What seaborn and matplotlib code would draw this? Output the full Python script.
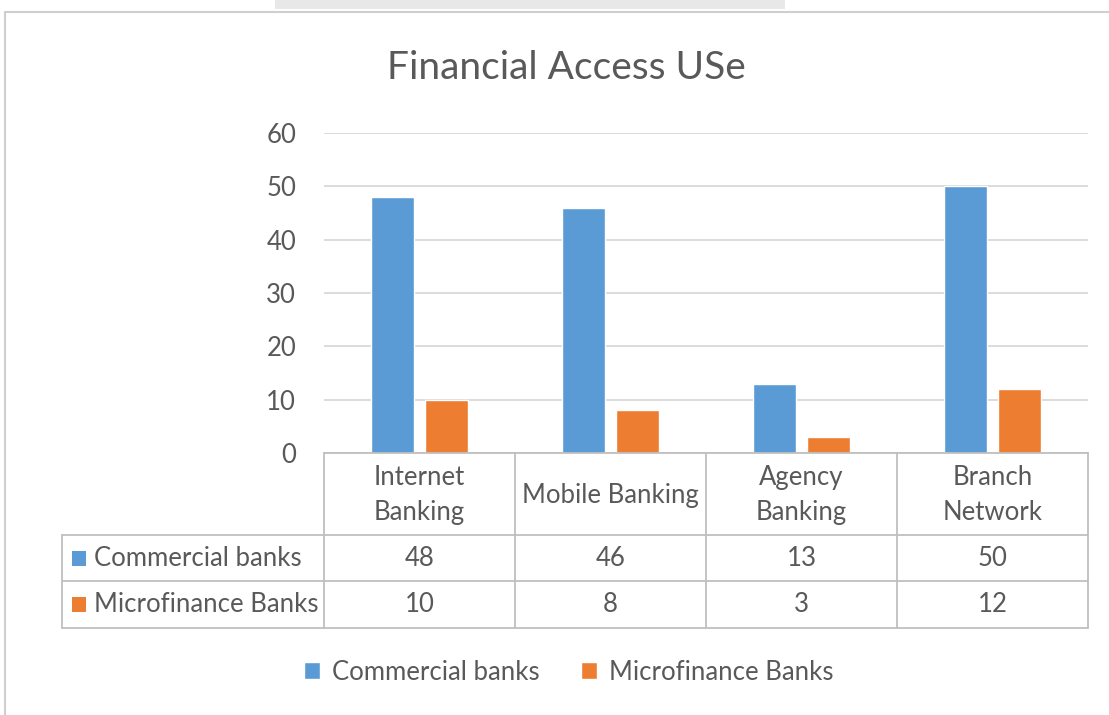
import matplotlib
matplotlib.use("Agg")
import matplotlib.pyplot as plt
import matplotlib.transforms as mtransforms
from matplotlib.patches import Rectangle
from matplotlib.lines import Line2D
import seaborn as sns
import pandas as pd

# ---- data ----
categories = ["Internet\nBanking", "Mobile Banking", "Agency\nBanking", "Branch\nNetwork"]
series_names = ["Commercial banks", "Microfinance Banks"]
commercial = [48, 46, 13, 50]
microfinance = [10, 8, 3, 12]
yticks = [0, 10, 20, 30, 40, 50, 60]
title = "Financial Access USe"

colors = ["#5B9BD5", "#ED7D31"]
text_color = "#595959"
grid_color = "#D9D9D9"
table_color = "#BFBFBF"
FS = 18.5

sns.set_theme(style="white")
plt.rcParams["font.family"] = ["Lato", "DejaVu Sans"]

W, H = 1109, 715
fig = plt.figure(figsize=(W / 100, H / 100), dpi=100)

def fx(px):
    return px / W

def fy(py):
    return 1 - py / H

# plot area
ax_left, ax_right, ax_top, ax_bottom = 324, 1088, 133, 453
ax = fig.add_axes([fx(ax_left), fy(ax_bottom), fx(ax_right - ax_left), (ax_bottom - ax_top) / H])

df = pd.DataFrame({
    "category": categories * 2,
    "series": [series_names[0]] * 4 + [series_names[1]] * 4,
    "value": commercial + microfinance,
})

sns.barplot(data=df, x="category", y="value", hue="series", palette=colors,
            width=0.56, gap=0.2, ax=ax, saturation=1, order=categories,
            hue_order=series_names)

handles, labels = ax.get_legend_handles_labels()
if ax.get_legend() is not None:
    ax.get_legend().remove()

ax.set_xlim(-0.5, len(categories) - 0.5)
ax.set_ylim(0, 60)
ax.set_yticks(yticks)
ax.yaxis.grid(True, color=grid_color, linewidth=1.3)
ax.set_axisbelow(True)
for s in ax.spines.values():
    s.set_visible(False)
ax.set_xlabel("")
ax.set_ylabel("")
ax.set_xticks([])
ax.tick_params(axis="y", length=0, pad=20, labelsize=FS, labelcolor=text_color)

# title
fig.text(fx(566), fy(68), title, ha="center", va="center", fontsize=28, color=text_color)

# ---- data table ----
blend = mtransforms.blended_transform_factory(ax.transData, fig.transFigure)
row_y = [ax_bottom, 535, 581, 628]
label_left = 62

# horizontal lines
fig.add_artist(Line2D([fx(ax_left), fx(ax_right)], [fy(row_y[0])] * 2, color=table_color, lw=1.3))
for ry in row_y[1:]:
    fig.add_artist(Line2D([fx(label_left), fx(ax_right)], [fy(ry)] * 2, color=table_color, lw=1.3))
# vertical lines
fig.add_artist(Line2D([fx(label_left)] * 2, [fy(row_y[1]), fy(row_y[3])], color=table_color, lw=1.3))
for i in range(len(categories) + 1):
    ax_x = i - 0.5
    fig.add_artist(Line2D([ax_x, ax_x], [fy(row_y[0]), fy(row_y[3])], color=table_color,
                          lw=1.3, transform=blend))

# header text
for i, cat in enumerate(categories):
    fig.text(i, fy((row_y[0] + row_y[1]) / 2 + 1), cat, transform=blend, ha="center",
             va="center", fontsize=FS, color=text_color, linespacing=1.5)

# row values + labels
for r, (name, vals, col) in enumerate(zip(series_names, [commercial, microfinance], colors)):
    yc = fy((row_y[r + 1] + row_y[r + 2]) / 2)
    fig.add_artist(Rectangle((fx(72), yc - 7.5 / H), 14 / W, 15 / H, facecolor=col,
                             edgecolor="none", transform=fig.transFigure))
    fig.text(fx(94), yc, name, ha="left", va="center", fontsize=FS, color=text_color)
    for i, v in enumerate(vals):
        fig.text(i, yc, str(v), transform=blend, ha="center", va="center", fontsize=FS,
                 color=text_color)

# legend
leg = fig.legend(handles, labels, loc="center", bbox_to_anchor=(fx(569), fy(672)), ncol=2,
                 frameon=False, fontsize=FS, handlelength=0.6, handleheight=0.6,
                 columnspacing=1.6, handletextpad=0.5, labelcolor=text_color)

# chart frame
fig.add_artist(Line2D([fx(5), fx(W)], [fy(12), fy(12)], color="#CFCFCF", lw=1.5))
fig.add_artist(Line2D([fx(5), fx(5)], [fy(12), fy(H)], color="#CFCFCF", lw=1.5))
fig.add_artist(Rectangle((fx(275), fy(9)), fx(510), 9 / H, facecolor="#E8E8E8",
                         edgecolor="none", transform=fig.transFigure))

fig.savefig("out.png", dpi=100, facecolor="white")
